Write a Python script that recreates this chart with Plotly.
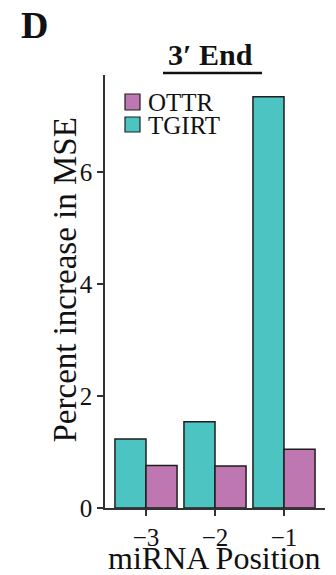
import plotly.graph_objects as go

positions = ["\u22123", "\u22122", "\u22121"]
tgirt = [1.23, 1.54, 7.34]
ottr = [0.76, 0.75, 1.05]
series_names = ["OTTR", "TGIRT"]
x_title = "miRNA Position"
y_title = "Percent increase in MSE"

W, H = 336, 575
OFF = 8  # page offset of the figure div (body margin)
L, R, T, B = 97, 19, 67, 75
pw, ph = W - L - R, H - T - B

def px(x):
    return (x - OFF - L) / pw

def py(y):
    return (H - B - (y - OFF)) / ph

FONT = "Times New Roman, Liberation Serif, serif"
TEAL = "#4CC4C2"
PURPLE = "#BE77B1"
EDGE = "#1e1e1e"
INK = "#111111"

def f(size, bold=False):
    return dict(family=FONT, size=size, color=INK, weight="bold" if bold else "normal")

fig = go.Figure()
fig.add_trace(go.Bar(x=positions, y=tgirt, name="TGIRT", marker=dict(color=TEAL, line=dict(color=EDGE, width=1.5))))
fig.add_trace(go.Bar(x=positions, y=ottr, name="OTTR", marker=dict(color=PURPLE, line=dict(color=EDGE, width=1.5))))

fig.update_layout(
    width=W, height=H,
    margin=dict(l=L, r=R, t=T, b=B, pad=0, autoexpand=False),
    paper_bgcolor="white", plot_bgcolor="white",
    font=f(25),
    barmode="group", bargap=0.1, bargroupgap=0,
    showlegend=False,
    xaxis=dict(range=[-0.594, 2.594], automargin=False, showline=True, linecolor="#333", linewidth=1.5,
               ticks="outside", ticklen=6, tickcolor="#333", tickwidth=1.5, showgrid=False,
               tickfont=f(25)),
    yaxis=dict(range=[0, 7.73], automargin=False, tickvals=[0, 2, 4, 6], showline=True, linecolor="#333",
               linewidth=1.5, ticks="outside", ticklen=6, tickcolor="#333", tickwidth=1.5,
               showgrid=False, zeroline=False, tickfont=f(25)),
)

# axis titles
fig.add_annotation(text=x_title, x=px(214.5), y=py(557.5), xref="paper", yref="paper",
                   xanchor="center", yanchor="middle", showarrow=False, font=f(32))
fig.add_annotation(text=y_title, x=px(64), y=py(280.5), xref="paper", yref="paper", textangle=-90,
                   xanchor="center", yanchor="middle", showarrow=False, font=f(33))

# legend drawn as swatches + labels (OTTR on top, TGIRT below)
legend_colors = {"OTTR": PURPLE, "TGIRT": TEAL}
rows = [(94, 110), (117, 132)]
for name, (y0, y1) in zip(series_names, rows):
    fig.add_shape(type="rect", xref="paper", yref="paper", x0=px(125), x1=px(140), y0=py(y1), y1=py(y0),
                  fillcolor=legend_colors[name], line=dict(color=EDGE, width=1.2))
    fig.add_annotation(text=name, x=px(146), y=py((y0 + y1) / 2 + 1), xref="paper", yref="paper",
                       xanchor="left", yanchor="middle", showarrow=False, font=f(25))

fig.add_annotation(text="<b>3\u2032 End</b>", x=px(210), y=py(55), xref="paper", yref="paper",
                   xanchor="center", yanchor="middle", showarrow=False, font=f(30, True))
fig.add_shape(type="line", xref="paper", yref="paper", x0=px(163), x1=px(262), y0=py(73), y1=py(73),
              line=dict(color=INK, width=2.5))
fig.add_annotation(text="<b>D</b>", x=px(34), y=py(25), xref="paper", yref="paper",
                   xanchor="center", yanchor="middle", showarrow=False, font=f(38, True))

fig.write_html("out.html")
